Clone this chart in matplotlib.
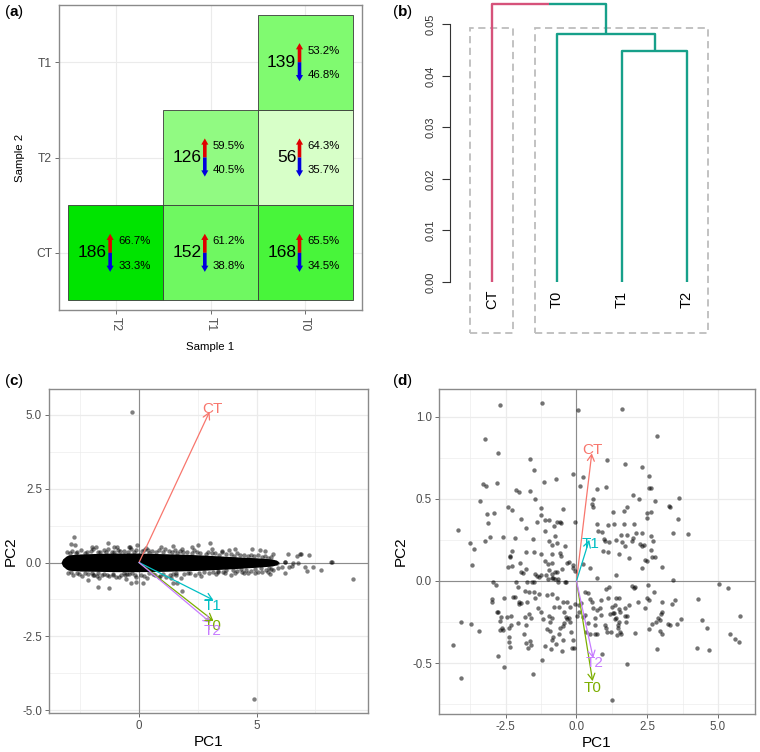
import numpy as np
import matplotlib
matplotlib.use('Agg')
import matplotlib.pyplot as plt
from matplotlib.colors import LinearSegmentedColormap, Normalize
from matplotlib.patches import Rectangle

plt.rcParams['font.family'] = ['Liberation Sans', 'DejaVu Sans']
plt.rcParams['axes.unicode_minus'] = False
plt.rcParams['mathtext.fontset'] = 'custom'
plt.rcParams['mathtext.rm'] = 'Liberation Sans'
plt.rcParams['mathtext.bf'] = 'Liberation Sans:bold'

# ---------------- (a) pairwise DE counts ----------------
sample1_levels = ['T2', 'T1', 'T0']
sample2_levels = ['CT', 'T2', 'T1']
tile_s1 = ['T2', 'T1', 'T0', 'T1', 'T0', 'T0']
tile_s2 = ['CT', 'CT', 'CT', 'T2', 'T2', 'T1']
tile_count = [186, 152, 168, 126, 56, 139]
tile_up = [66.7, 61.2, 65.5, 59.5, 64.3, 53.2]
tile_down = [33.3, 38.8, 34.5, 40.5, 35.7, 46.8]

# ---------------- (b) dendrogram ----------------
leaf_labels = ['CT', 'T0', 'T1', 'T2']
merge_heights = [0.0448, 0.0481, 0.0539]   # (T1,T2), (T0,(T1,T2)), root
dend_ticks = [0.00, 0.01, 0.02, 0.03, 0.04, 0.05]

# ---------------- (c) PCA biplot (all genes) ----------------
c_band_x = [-3.32, -3.25, -3.1, -3.0, -2.5, -1.7, -1.0, 0.0, 1.0, 2.0, 2.8, 3.5, 4.2, 5.0, 5.65, 5.85, 5.95]
c_band_top = [0.0, 0.12, 0.22, 0.26, 0.29, 0.31, 0.32, 0.32, 0.30, 0.28, 0.25, 0.22, 0.19, 0.16, 0.12, 0.08, 0.0]
c_band_bot = [0.0, -0.12, -0.22, -0.26, -0.29, -0.30, -0.31, -0.31, -0.30, -0.28, -0.26, -0.23, -0.20, -0.16, -0.12, -0.08, 0.0]
c_pc1 = [-0.31, 4.91, 9.09, 8.17, 7.74, 7.42, 7.13, 7.25, 6.89, 6.57, 6.72, 6.37, 6.21, 5.86, 5.55,
         -2.77, -2.91, -2.74, -2.01, -1.84, -1.30, -1.05, -0.92, -0.43, -0.38, -0.10, 0.43, 0.92, 1.45, 1.84, 2.27, 2.50,
         -2.16, -1.73, -1.28, -2.01, -1.77, -1.56, -0.99, -0.54, -0.35, -0.11, 0.18, -0.43, -0.64, 0.85, 1.35, 1.45, 1.63, 1.84,
         3.02, 3.09, 3.52, 3.83, 4.09, 4.79, 5.15, 5.36, 5.72, 6.33, 6.85, 6.21, 6.52, 6.78, 7.06, 8.20,
         3.38, 3.66, 4.09, 4.37, 4.65, 4.94, 5.25, 5.50, 5.72, 6.21, 5.90, 6.10,
         -2.93, -2.62, -2.28, -2.04, -1.67, -1.42, -1.08, -0.83, -0.47, -0.22, 0.12, 0.38, 0.73, 1.02, 1.27, 1.63,
         1.88, 2.24, 2.47, 2.83, 3.12, 3.41, 3.68, 4.03, 4.28, 4.62, 4.88, 5.23, 5.47,
         -2.88, -2.57, -2.31, -1.97, -1.73, -1.38, -1.12, -0.78, -0.52, -0.18, 0.08, 0.42, 0.68, 1.04, 1.32, 1.58,
         1.93, 2.18, 2.53, 2.77, 3.14, 3.37, 3.72, 3.98, 4.33, 4.57, 4.93, 5.18, 5.52,
         -3.05, -2.85, -2.70, -2.45, -2.20, -1.95, -1.75, -1.50, -1.30, -1.15, -0.90, -0.65, -0.35, -0.15, 0.20, 0.30,
         0.55, 0.85, 1.10, 1.40, 1.55, 1.75, 2.05, 2.35, 2.60, 2.95, 3.25, 3.55, 3.90, 4.15, 4.45, 4.75, 5.05, 5.35, 5.60,
         -3.02, -2.81, -2.66, -2.41, -2.17, -1.91, -1.72, -1.47, -1.26, -1.11, -0.87, -0.61, -0.32, -0.12, 0.23, 0.34,
         0.58, 0.88, 1.13, 1.43, 1.59, 1.78, 2.08, 2.38, 2.63, 2.98, 3.28, 3.58, 3.93, 4.18, 4.48, 4.78, 5.08, 5.38, 5.63]
c_pc2 = [5.09, -4.64, -0.57, 0.02, -0.27, -0.14, -0.30, 0.24, 0.28, -0.03, 0.23, -0.15, 0.02, -0.03, -0.39,
         0.85, 0.63, 0.59, 0.54, 0.54, 0.65, 0.51, 0.51, 0.54, 0.51, 0.60, 0.33, 0.54, 0.57, 0.45, 0.51, 0.59,
         -0.59, -0.82, -0.88, -0.37, -0.46, -0.42, -0.48, -0.57, -0.71, -0.65, -0.68, -0.39, -0.37, -0.48, -0.54, -0.71, -0.68, -0.97,
         0.65, 0.45, 0.40, 0.42, 0.47, 0.47, 0.42, 0.40, 0.29, 0.29, 0.28, 0.03, -0.12, -0.01, -0.16, 0.02,
         -0.31, -0.34, -0.37, -0.32, -0.34, -0.37, -0.33, -0.31, -0.25, -0.37, -0.20, -0.14,
         0.31, 0.36, 0.33, 0.39, 0.34, 0.37, 0.35, 0.40, 0.36, 0.34, 0.38, 0.41, 0.36, 0.34, 0.39, 0.32,
         0.35, 0.31, 0.37, 0.29, 0.31, 0.26, 0.28, 0.23, 0.26, 0.21, 0.23, 0.19, 0.16,
         -0.33, -0.39, -0.36, -0.41, -0.37, -0.43, -0.39, -0.42, -0.38, -0.44, -0.41, -0.37, -0.43, -0.39, -0.41, -0.36,
         -0.38, -0.34, -0.37, -0.32, -0.31, -0.28, -0.26, -0.27, -0.23, -0.25, -0.21, -0.20, -0.17,
         0.34, 0.40, 0.31, 0.43, 0.37, 0.45, 0.35, 0.42, 0.47, 0.36, 0.44, 0.39, 0.46, 0.41, 0.43, 0.48,
         0.38, 0.42, 0.45, 0.36, 0.41, 0.39, 0.35, 0.42, 0.33, 0.37, 0.31, 0.34, 0.29, 0.32, 0.27, 0.25, 0.26, 0.21, 0.19,
         -0.35, -0.41, -0.37, -0.46, -0.39, -0.44, -0.52, -0.38, -0.47, -0.41, -0.50, -0.43, -0.37, -0.48, -0.45, -0.53,
         -0.40, -0.46, -0.49, -0.38, -0.44, -0.51, -0.36, -0.42, -0.47, -0.35, -0.39, -0.33, -0.41, -0.30, -0.36, -0.28, -0.31, -0.25, -0.22]
c_arrow_x = [3.00, 3.16, 3.16, 3.05]     # CT, T0, T1, T2
c_arrow_y = [5.11, -1.97, -1.27, -2.04]
c_label_x = [3.14, 3.14, 3.12, 3.13]
c_label_y = [5.20, -2.15, -1.46, -2.31]

# ---------------- (d) PCA biplot (DE genes) ----------------
d_pc1 = [-2.69, -1.21, 0.05, 1.62, -3.23, 2.83, -2.78, -1.64, 1.08, 1.73, -1.51, 2.30, -0.12, 0.24, 2.56,
         -1.16, -0.72, -3.30, -3.20, -2.81, 0.11, 2.57, 2.65, 0.71, 1.03, -2.13, -2.02, -1.64, 1.98, 2.22,
         3.61, -1.45, -3.41, 0.57, 0.55, 0.59, 2.78, -2.41, -2.28, -1.27, -0.47, 1.79, 1.69, 3.27, 3.29,
         -1.24, 1.29, 2.50, 2.50, 2.65, -3.18, -2.90, -1.97, 3.60, -1.40, -1.10, -0.98, -0.78, -0.68, -0.60,
         -0.53, -0.05, -3.12, 0.71, 1.12, 1.33, 1.67, 2.02, -1.80, -1.13, -4.20, 0.75, 0.91, 1.58, 1.78,
         2.09, 2.31, 2.65, 3.40, 3.94, -0.75, -0.96, -0.68, -0.85, -0.42, -2.59, -3.05, -3.25, -2.16, -1.54,
         -3.76, -3.62, -3.68, 0.96, 1.00, 1.16, 1.38, 1.62, 1.95, 1.98, 2.25, 2.31, 2.39, 2.71, 1.72,
         0.94, 1.12, 1.52, 1.85, 2.63, 2.42, 2.49, 2.68, 2.77, 2.32, 3.04, 1.40, 3.40, 0.71, -2.29,
         -2.35, -1.80, -1.51, -1.25, -0.88, -0.60, -0.54, -2.00, -2.36, -2.29, -2.43, -1.80, -1.97, -1.90,
         -1.12, -1.00, -0.86, -0.97, -0.77, -0.68, -0.51, -0.34, -0.25, -1.45, -1.38, -1.24, -1.07, -0.88,
         -0.83, -0.65, -0.38, -0.13, -0.11, -0.06, -2.13, -2.95, -1.59, 0.48, 0.24,
         -2.84, -2.98, -2.98, -2.55, -2.25, -2.18, -2.06, -1.82, -1.69, -1.49, -1.31, -1.45, -1.75, -1.95,
         -2.04, -2.02, -2.82, -2.77, -2.68, -2.69, -2.45, -2.32, -2.30, -2.37, -2.37, -2.37, -2.35, -2.65,
         -2.61, -2.71, -4.07, -3.73, -3.44, -4.35, -2.78, -2.57, -4.07, -1.54, -1.21, -2.06, -1.83, -1.69,
         -1.60, -1.78, -1.86, -1.80, -1.66, -1.71, -1.62, -1.37, -1.25, -1.18, -0.98, -0.92, -1.06, -0.93,
         -0.84, -0.86, -1.10, -0.91, -0.72, -0.51, -1.06, -0.86, -0.68, -0.46, -0.32, -0.24, -0.07, -0.80,
         -0.62, -0.45, -0.38, -0.32, -0.25, -0.18, -0.11, -0.15, -0.09, 0.01, 0.08, 0.22, 0.29, 0.08, 0.17,
         0.29, 0.39, 0.46, 0.55, 0.58, 0.39, 0.32, 0.46, 0.65, -0.44, -0.24, -0.62, -0.48, -0.59, -0.48,
         -0.86, -1.01, -0.87, -0.75, -0.65, -0.41, -1.51, -1.33, -1.76,
         5.05, 5.37, 1.04, 1.16, 1.97, 2.04, 2.06, 2.54, 2.75, 0.88, 1.12, 1.39, 1.50, 2.18, 2.51, 2.56,
         3.01, 3.48, 4.28, 1.87, 1.71, 1.52, 1.54, 1.36, 1.24, 1.31, 0.73, 0.84, 0.88, 1.17, 1.29, 1.36,
         1.40, 1.71, 1.78, 2.42, 3.36, 3.02, 2.98, 2.89, 2.95, 2.82, 2.68, 3.24, 3.31, 3.57, 3.69, 2.56,
         3.04, 2.96, 2.06, 4.45, 4.61, 5.79, 5.41, 5.60, 5.75, 4.27, 4.69, 2.85, 0.91, 1.78, 1.24, 0.65,
         0.72, 0.67, 1.00, 1.05, 1.07, 1.21, 1.47, 1.54, 1.43, 1.57, 1.76, 1.50, 1.45]
d_pc2 = [1.073, 1.081, 1.039, 1.047, 0.864, 0.882, 0.777, 0.744, 0.736, 0.714, 0.673, 0.696, 0.649, 0.631, 0.639,
         0.602, 0.619, 0.592, 0.576, 0.594, 0.576, 0.566, 0.566, 0.562, 0.572, 0.556, 0.540, 0.548, 0.523, 0.499,
         0.507, 0.499, 0.489, 0.499, 0.469, 0.448, 0.485, 0.448, 0.434, 0.446, 0.438, 0.448, 0.428, 0.454, 0.448,
         0.402, 0.420, 0.416, 0.383, 0.418, 0.406, 0.412, 0.379, 0.375, 0.361, 0.373, 0.369, 0.337, 0.361, 0.357,
         0.353, 0.357, 0.355, 0.347, 0.341, 0.349, 0.347, 0.347, 0.325, 0.304, 0.310, 0.306, 0.296, 0.282, 0.278,
         0.290, 0.292, 0.272, 0.292, 0.286, 0.272, 0.245, 0.231, 0.221, 0.215, 0.270, 0.266, 0.241, 0.260, 0.256,
         0.229, 0.195, 0.095, 0.256, 0.245, 0.235, 0.247, 0.237, 0.243, 0.260, 0.225, 0.215, 0.221, 0.241, 0.215,
         0.183, 0.178, 0.164, 0.140, 0.189, 0.128, 0.124, 0.148, 0.144, 0.077, 0.087, 0.039, 0.004, 0.018, 0.181,
         0.154, 0.178, 0.178, 0.166, 0.162, 0.168, 0.154, 0.108, 0.144, 0.093, 0.083, 0.073, 0.057, 0.049,
         0.120, 0.105, 0.112, 0.069, 0.057, 0.057, 0.073, 0.110, 0.118, 0.041, 0.028, 0.037, 0.037, 0.041,
         0.016, 0.012, -0.008, 0.097, 0.077, 0.059, -0.008, -0.008, -0.004, 0.079, 0.103,
         -0.024, -0.110, -0.130, -0.105, -0.097, -0.097, -0.037, -0.061, -0.069, -0.069, -0.077, -0.101, -0.126, -0.134,
         -0.130, -0.142, -0.187, -0.187, -0.217, -0.243, -0.217, -0.211, -0.268, -0.288, -0.339, -0.373, -0.400, -0.284,
         -0.298, -0.298, -0.247, -0.264, -0.304, -0.391, -0.456, -0.521, -0.592, -0.566, -0.479, -0.258, -0.217, -0.203,
         -0.227, -0.268, -0.320, -0.379, -0.365, -0.406, -0.387, -0.162, -0.187, -0.231, -0.215, -0.247, -0.292, -0.304,
         -0.341, -0.361, -0.394, -0.414, -0.381, -0.426, -0.085, -0.081, -0.105, -0.126, -0.126, -0.160, -0.142, -0.160,
         -0.158, -0.187, -0.219, -0.231, -0.223, -0.308, -0.357, -0.406, -0.406, -0.211, -0.187, -0.221, -0.205, -0.146, -0.134,
         -0.065, -0.073, -0.110, -0.130, -0.162, -0.258, -0.312, -0.320, -0.320, -0.258, -0.252, -0.325, -0.361, -0.288, -0.272,
         -0.227, 0.012, 0.020, 0.012, -0.004, -0.004, -0.008, 0.026, -0.008,
         -0.020, -0.045, -0.049, -0.037, -0.028, -0.045, -0.037, -0.024, -0.065, -0.118, -0.105, -0.105, -0.105, -0.126, -0.101, -0.118,
         -0.130, -0.114, -0.112, -0.146, -0.162, -0.170, -0.187, -0.146, -0.160, -0.193, -0.174, -0.166, -0.207, -0.199, -0.195, -0.231,
         -0.223, -0.211, -0.215, -0.162, -0.142, -0.191, -0.203, -0.227, -0.235, -0.247, -0.260, -0.264, -0.268, -0.260, -0.231, -0.292,
         -0.320, -0.304, -0.316, -0.235, -0.288, -0.211, -0.320, -0.353, -0.373, -0.406, -0.422, -0.414, -0.444, -0.505, -0.724, -0.268,
         -0.320, -0.227, -0.268, -0.284, -0.308, -0.308, -0.284, -0.308, -0.329, -0.320, -0.252, -0.247, -0.268]
d_arrow_x = [0.54, 0.57, 0.45, 0.59]     # CT, T0, T1, T2
d_arrow_y = [0.777, -0.61, 0.25, -0.47]
d_label_x = [0.57, 0.57, 0.50, 0.65]
d_label_y = [0.795, -0.653, 0.225, -0.497]

sample_names = ['CT', 'T0', 'T1', 'T2']
sample_colors = ['#F8766D', '#7CAE00', '#00BFC4', '#C77CFF']

W, H = 760, 752
fig = plt.figure(figsize=(W / 100, H / 100), dpi=100)


def ax_px(l, t, r, b):
    return fig.add_axes([l / W, 1 - b / H, (r - l) / W, (b - t) / H])


GRID = '#EBEBEB'
TXT = '#4D4D4D'

# ================= panel (a) =================
axa = ax_px(59, 5, 362, 310)
cmap = LinearSegmentedColormap.from_list(
    'deg', [(0.0, '#D7FFC8'), (0.538, '#91FA82'), (0.638, '#80FA70'),
            (0.738, '#70F862'), (0.862, '#48F53A'), (1.0, '#00E400')])
norm = Normalize(vmin=min(tile_count), vmax=max(tile_count))
axa.set_xlim(0.4, 3.6)
axa.set_ylim(0.4, 3.6)
for v in [1, 2, 3]:
    axa.axvline(v, color=GRID, lw=0.8, zorder=0)
    axa.axhline(v, color=GRID, lw=0.8, zorder=0)
for s1, s2, n, up, dn in zip(tile_s1, tile_s2, tile_count, tile_up, tile_down):
    xc = sample1_levels.index(s1) + 1
    yc = sample2_levels.index(s2) + 1
    axa.add_patch(Rectangle((xc - 0.5, yc - 0.5), 1, 1, facecolor=cmap(norm(n)),
                            edgecolor='#3A3A3A', lw=0.6, zorder=1))
    xa = xc - 0.06
    axa.arrow(xa, yc, 0, 0.2, width=0.038, head_width=0.075, head_length=0.065,
              length_includes_head=True, color='#E00000', lw=0, zorder=3)
    axa.arrow(xa, yc, 0, -0.2, width=0.038, head_width=0.075, head_length=0.065,
              length_includes_head=True, color='#0000DD', lw=0, zorder=3)
    axa.text(xa - 0.035, yc, str(n), ha='right', va='center', fontsize=12.5, color='black', zorder=4)
    axa.text(xa + 0.085, yc + 0.12, f'{up:.1f}%', ha='left', va='center', fontsize=8.2, color='black', zorder=4)
    axa.text(xa + 0.085, yc - 0.135, f'{dn:.1f}%', ha='left', va='center', fontsize=8.2, color='black', zorder=4)
axa.set_xticks([1, 2, 3])
axa.set_xticklabels(sample1_levels, rotation=-90, fontsize=8.7, color=TXT, va='top')
axa.set_yticks([1, 2, 3])
axa.set_yticklabels(sample2_levels, fontsize=8.7, color=TXT)
axa.tick_params(length=3, color='#555555', width=0.6, pad=2)
for sp in axa.spines.values():
    sp.set_color('#8A8A8A')
    sp.set_linewidth(1.0)
axa.set_xlabel('Sample 1', fontsize=8.2, labelpad=8)
axa.set_ylabel('Sample 2', fontsize=8.2, labelpad=8)

# ================= panel (b) =================
axb = ax_px(450, 0, 720, 340)
axb.set_xlim(1 - 42 / 65, 4 + 33 / 65)
axb.set_ylim(-0.01125, 0.05471)
PINK = '#D6527A'
TEAL = '#17A08A'
lw_d = 1.7
h_a, h_b, h_root = merge_heights
x_a = (3 + 4) / 2
x_b = (2 + x_a) / 2
x_root = (1 + x_b) / 2
axb.plot([1, 1, x_root], [0, h_root, h_root], color=PINK, lw=lw_d, solid_capstyle='butt')
axb.plot([x_root, x_b, x_b], [h_root, h_root, h_b], color=TEAL, lw=lw_d, solid_capstyle='butt')
axb.plot([2, 2, x_a, x_a], [0, h_b, h_b, h_a], color=TEAL, lw=lw_d, solid_capstyle='butt')
axb.plot([3, 3, 4, 4], [0, h_a, h_a, 0], color=TEAL, lw=lw_d, solid_capstyle='butt')
for i, lab in enumerate(leaf_labels):
    axb.text(i + 1, -0.0034, lab, rotation=90, ha='center', va='center', fontsize=10.5)
rect_top = 0.04934
rect_bot = -0.00988
for lo, hi in [(0.66, 1.33), (1.66, 4.33)]:
    axb.add_patch(Rectangle((lo, rect_bot), hi - lo, rect_top - rect_bot, fill=False,
                            edgecolor='#BDBDBD', lw=1.3, linestyle=(0, (4, 2.5))))
for sp in ['top', 'right', 'bottom']:
    axb.spines[sp].set_visible(False)
axb.spines['left'].set_bounds(0, 0.05)
axb.spines['left'].set_color('#333333')
axb.set_xticks([])
axb.set_yticks(dend_ticks)
axb.set_yticklabels([f'{t:.2f}' for t in dend_ticks], rotation=90, va='center', fontsize=8, color='#333333')
axb.tick_params(axis='y', length=6, width=0.8, color='#333333', pad=4)


# ================= panels (c), (d) =================
def style_biplot(ax, xmaj, xmin_, ymaj, ymin_, xl, yl, xfmt, yfmt):
    ax.set_xlim(*xl)
    ax.set_ylim(*yl)
    ax.set_xticks(xmaj)
    ax.set_xticks(xmin_, minor=True)
    ax.set_yticks(ymaj)
    ax.set_yticks(ymin_, minor=True)
    ax.set_xticklabels([xfmt(v) for v in xmaj], fontsize=8.3, color=TXT)
    ax.set_yticklabels([yfmt(v) for v in ymaj], fontsize=8.3, color=TXT)
    ax.grid(True, which='major', color=GRID, lw=0.9, zorder=0)
    ax.grid(True, which='minor', color=GRID, lw=0.45, zorder=0)
    ax.set_axisbelow(True)
    ax.tick_params(which='major', length=3, color='#555555', width=0.6, pad=2)
    ax.tick_params(which='minor', length=0)
    for sp in ax.spines.values():
        sp.set_color('#8A8A8A')
        sp.set_linewidth(1.0)
    ax.axhline(0, color='#8C8C8C', lw=0.8, zorder=1)
    ax.axvline(0, color='#8C8C8C', lw=0.8, zorder=1)
    ax.set_xlabel('PC1', fontsize=11, labelpad=2)
    ax.set_ylabel('PC2', fontsize=11, labelpad=3)


def draw_arrows(ax, ax_x, ax_y, lx, ly):
    for name, col, x, y, tx, ty in zip(sample_names, sample_colors, ax_x, ax_y, lx, ly):
        ax.annotate('', xy=(x, y), xytext=(0, 0),
                    arrowprops=dict(arrowstyle='->,head_length=0.45,head_width=0.25', color=col, lw=0.9,
                                    shrinkA=0, shrinkB=0), zorder=4)
        ax.text(tx, ty, name, color=col, ha='center', va='center', fontsize=11, zorder=5)


axc = ax_px(49, 389, 368, 713)
style_biplot(axc, [0, 5], [-2.5, 2.5, 7.5], [-5.0, -2.5, 0.0, 2.5, 5.0], [-3.75, -1.25, 1.25, 3.75],
             (-3.83, 9.74), (-5.1, 5.88), lambda v: f'{v:g}', lambda v: f'{v:.1f}')
axc.fill_between(c_band_x, c_band_bot, c_band_top, color='black', lw=0, zorder=2)
axc.scatter(c_pc1, c_pc2, s=10, color='black', alpha=0.5, linewidths=0, zorder=2)
draw_arrows(axc, c_arrow_x, c_arrow_y, c_label_x, c_label_y)

axd = ax_px(439, 389, 755, 714)
style_biplot(axd, [-2.5, 0.0, 2.5, 5.0], [-3.75, -1.25, 1.25, 3.75], [-0.5, 0.0, 0.5, 1.0],
             [-0.75, -0.25, 0.25, 0.75], (-4.86, 6.31), (-0.81, 1.169),
             lambda v: f'{v:.1f}', lambda v: f'{v:.1f}')
axd.scatter(d_pc1, d_pc2, s=10, color='black', alpha=0.55, linewidths=0, zorder=2)
draw_arrows(axd, d_arrow_x, d_arrow_y, d_label_x, d_label_y)

# panel tags
for tag, x, y in [('a', 4, 12), ('b', 392, 12), ('c', 4, 381), ('d', 392, 381)]:
    fig.text(x / W, 1 - y / H, rf'($\mathbf{{{tag}}}$)', fontsize=11, ha='left', va='center')

fig.savefig('out.png', dpi=100)
